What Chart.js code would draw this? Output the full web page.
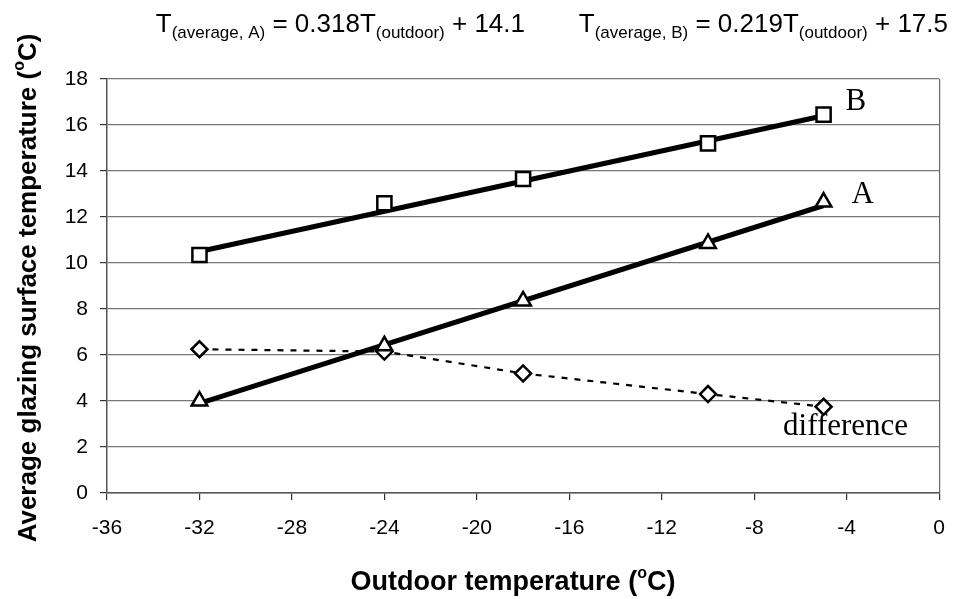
<!DOCTYPE html>
<html>
<head>
<meta charset="utf-8">
<script src="https://cdn.jsdelivr.net/npm/chart.js@4.4.0/dist/chart.umd.min.js"></script>
<style>
  html, body { margin: 0; padding: 0; background: #fff; }
  #wrap { width: 961px; height: 599px; position: relative; }
</style>
</head>
<body>
<div id="wrap"><canvas id="glazingChart" width="961" height="599"></canvas></div>
<script>
const outdoorTemps = [-32, -24, -18, -10, -5];
const surfaceB = [10.35, 12.6, 13.65, 15.2, 16.45];
const surfaceA = [4.0, 6.4, 8.35, 10.85, 12.65];
const difference = [6.25, 6.15, 5.2, 4.3, 3.75];
const trendX = [-32, -5];
const trendA = [3.9, 12.5];
const trendB = [10.5, 16.4];
const xTicks = [-36, -32, -28, -24, -20, -16, -12, -8, -4, 0];
const yTicks = [0, 2, 4, 6, 8, 10, 12, 14, 16, 18];

// series name labels, placed in data units next to the last point
const seriesLabels = [
  { text: "B", x: -3.6, y: 16.64 },
  { text: "A", x: -3.31, y: 12.62 },
  { text: "difference", x: -4.05, y: 2.53 }
];

const SANS = "'Liberation Sans', Arial, sans-serif";
const SERIF = "'Liberation Serif', 'Times New Roman', serif";

const pts = (xs, ys) => xs.map((x, i) => ({ x, y: ys[i] }));

// draw a run of [text, size, dy, bold] pieces left to right
function drawRich(ctx, x, y, parts) {
  parts.forEach(([t, size, dy, bold]) => {
    ctx.font = (bold ? "bold " : "") + size + "px " + SANS;
    ctx.fillText(t, x, y + dy);
    x += ctx.measureText(t).width;
  });
}
function richWidth(ctx, parts) {
  let w = 0;
  parts.forEach(([t, size, dy, bold]) => {
    ctx.font = (bold ? "bold " : "") + size + "px " + SANS;
    w += ctx.measureText(t).width;
  });
  return w;
}

const eqA = [["T", 26, 0], ["(average, A)", 17, 6], [" = 0.318T", 26, 0], ["(outdoor)", 17, 6], [" + 14.1", 26, 0]];
const eqB = [["T", 26, 0], ["(average, B)", 17, 6], [" = 0.219T", 26, 0], ["(outdoor)", 17, 6], [" + 17.5", 26, 0]];
const xTitle = [["Outdoor temperature (", 27, 0, true], ["o", 16, -12, true], ["C)", 27, 0, true]];
const yTitle = [["Average glazing surface temperature (", 26, 0, true], ["o", 16, -12, true], ["C)", 26, 0, true]];

const textPlugin = {
  id: "texts",
  afterDraw(chart) {
    const ctx = chart.ctx;
    const xs = chart.scales.x, ys = chart.scales.y;
    ctx.save();
    ctx.fillStyle = "#000";
    ctx.textBaseline = "alphabetic";
    ctx.textAlign = "left";
    drawRich(ctx, 525 - richWidth(ctx, eqA), 32, eqA);
    drawRich(ctx, 948 - richWidth(ctx, eqB), 32, eqB);

    drawRich(ctx, 513 - richWidth(ctx, xTitle) / 2, 590, xTitle);

    ctx.save();
    ctx.translate(36, 288);
    ctx.rotate(-Math.PI / 2);
    drawRich(ctx, -richWidth(ctx, yTitle) / 2, 0, yTitle);
    ctx.restore();

    ctx.textAlign = "center";
    ctx.font = "31px " + SERIF;
    seriesLabels.forEach(l => {
      ctx.fillText(l.text, xs.getPixelForValue(l.x), ys.getPixelForValue(l.y));
    });
    ctx.restore();
  }
};

const ctx = document.getElementById("glazingChart").getContext("2d");
new Chart(ctx, {
  type: "scatter",
  data: {
    datasets: [
      { label: "B", data: pts(outdoorTemps, surfaceB), pointStyle: "rect", pointRadius: 10, pointBorderWidth: 2.5, borderColor: "#000", backgroundColor: "#fff", showLine: false, order: 0 },
      { label: "A", data: pts(outdoorTemps, surfaceA), pointStyle: "triangle", pointRadius: 9, pointBorderWidth: 2.5, borderColor: "#000", backgroundColor: "#fff", showLine: false, order: 0 },
      { label: "difference", data: pts(outdoorTemps, difference), pointStyle: "rectRot", pointRadius: 8, pointBorderWidth: 2.5, borderColor: "#000", backgroundColor: "#fff", showLine: true, borderWidth: 2.2, borderDash: [6, 7], order: 2 },
      { label: "trend B", data: pts(trendX, trendB), showLine: true, pointRadius: 0, borderColor: "#000", borderWidth: 5, order: 1 },
      { label: "trend A", data: pts(trendX, trendA), showLine: true, pointRadius: 0, borderColor: "#000", borderWidth: 5, order: 1 }
    ]
  },
  options: {
    responsive: false,
    animation: false,
    layout: { padding: { top: 79, right: 19, left: 0, bottom: 0 } },
    plugins: { legend: { display: false }, tooltip: { enabled: false } },
    scales: {
      x: {
        type: "linear", min: -36, max: 0,
        afterBuildTicks: s => { s.ticks = xTicks.map(v => ({ value: v })); },
        afterFit: s => { s.height = 106; },
        border: { color: "#555", width: 1.5 },
        grid: {
          drawOnChartArea: true,
          color: c => (c.tick && c.tick.value === 0 ? "#666" : "rgba(0,0,0,0)"),
          tickColor: "#333", tickLength: 7, lineWidth: 1.2
        },
        ticks: { color: "#000", font: { family: SANS, size: 21 }, padding: 16 }
      },
      y: {
        min: 0, max: 18,
        afterBuildTicks: s => { s.ticks = yTicks.map(v => ({ value: v })); },
        afterFit: s => { s.width = 107; },
        border: { color: "#555", width: 1.5 },
        grid: { color: "#777", lineWidth: 1.2, tickColor: "#333", tickLength: 7 },
        ticks: { color: "#000", font: { family: SANS, size: 21 }, padding: 12 }
      }
    }
  },
  plugins: [textPlugin]
});
</script>
</body>
</html>
